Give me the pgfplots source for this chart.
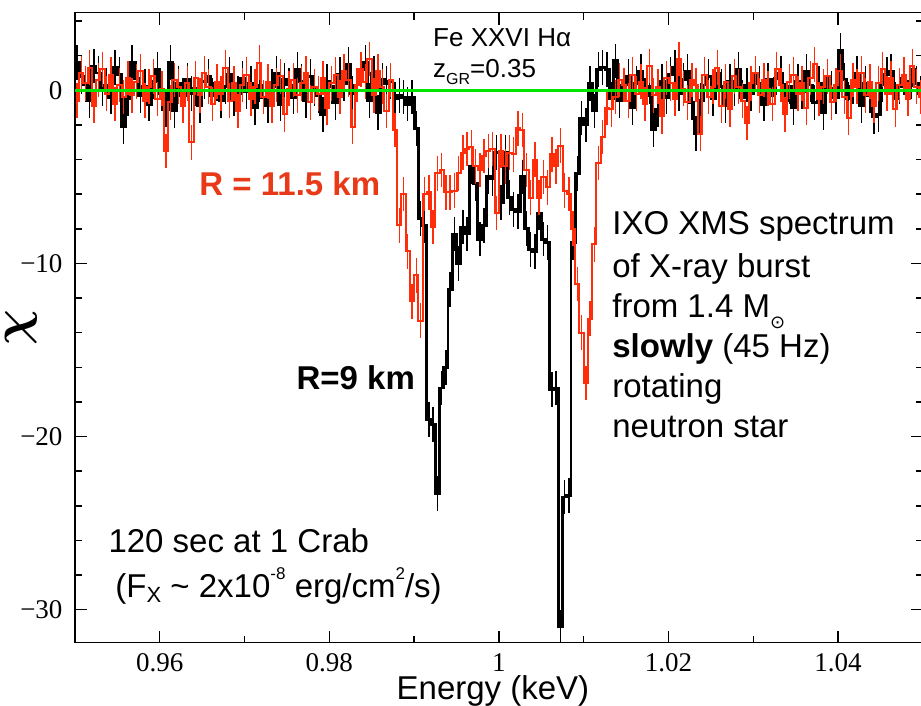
\documentclass[border=0pt]{standalone}
\usepackage{pgfplots}
\usepackage{pgfplotstable}
\pgfplotsset{compat=1.18}
\usepackage{bm}
\usepackage{fontspec}
\setmainfont{Liberation Sans}
\newfontfamily\serifnum{Liberation Serif}
\newfontfamily\symfont{DejaVu Sans}

\definecolor{spred}{RGB}{255,45,10}
\definecolor{lblred}{RGB}{232,58,24}
\definecolor{zerogreen}{RGB}{0,230,0}

% residual spectra: bin centre (keV), R=9 km, R=11.5 km
\pgfplotstableread{
E b r
0.95025 1.6 -0.6
0.95075 0.8 1.0
0.95125 0.3 0.4
0.95175 -0.6 1.3
0.95225 1.4 -0.9
0.95275 1.0 0.6
0.95325 0.1 1.2
0.95375 0.3 -0.2
0.95425 -0.4 0.9
0.95475 1.3 -0.8
0.95525 0.9 0.3
0.95575 -2.1 -0.4
0.95625 -0.5 0.7
0.95675 1.6 -0.3
0.95725 0.7 0.5
0.95775 -0.3 1.1
0.95825 0.2 -0.6
0.95875 -0.8 0.2
0.95925 0.5 0.8
0.95975 1.2 -0.5
0.96025 -0.2 0.1
0.96075 -1.1 -3.5
0.96125 1.6 -0.7
0.96175 -1.2 0.6
0.96225 0.4 0.2
0.96275 -0.3 -0.9
0.96325 0.6 0.4
0.96375 -0.2 -3.0
0.96425 0.1 0.7
0.96475 -0.9 -0.3
0.96525 0.5 1.0
0.96575 0.8 0.2
0.96625 -0.3 -0.8
0.96675 0.4 0.5
0.96725 -0.6 -0.2
0.96775 0.2 1.3
0.96825 0.9 -0.6
0.96875 -0.5 0.4
0.96925 -0.2 -1.2
0.96975 0.7 0.3
0.97025 -0.1 0.9
0.97075 0.4 -0.5
0.97125 -1.0 0.2
0.97175 0.3 1.6
0.97225 -0.4 -0.4
0.97275 -0.9 0.5
0.97325 0.2 -0.9
0.97375 1.0 0.3
0.97425 -0.8 0.8
0.97475 0.6 -1.4
0.97525 0.3 0.1
0.97575 -0.4 0.6
0.97625 1.2 -0.3
0.97675 0.5 0.4
0.97725 -0.6 1.0
0.97775 0.8 -0.7
0.97825 0.1 0.2
0.97875 -0.3 -0.2
0.97925 -1.4 0.7
0.97975 0.5 -1.0
0.98025 0.2 0.4
0.98075 -0.7 0.9
0.98125 0.9 -0.4
0.98175 0.4 1.1
0.98225 1.5 0.6
0.98275 -0.2 -2.1
0.98325 0.3 0.3
0.98375 1.2 1.2
0.98425 1.6 0.5
0.98475 -0.6 1.8
0.98525 1.0 -0.3
0.98575 -1.3 1.1
0.98625 0.6 0.2
0.98675 0.4 -1.2
0.98725 0.5 0.6
0.98775 -0.5 -2.3
0.98825 -0.3 -7.8
0.98875 -0.4 -6.0
0.98925 -0.8 -9.3
0.98975 -0.4 -12.2
0.99025 -2.2 -10.7
0.99075 -7.4 -13.3
0.99125 -7.8 -6.0
0.99175 -19.0 -5.9
0.99225 -19.3 -7.9
0.99275 -23.3 -4.8
0.99325 -17.2 -4.6
0.99375 -16.0 -5.9
0.99425 -11.5 -5.9
0.99475 -8.3 -5.8
0.99525 -10.0 -4.8
0.99575 -7.9 -3.6
0.99625 -8.3 -3.4
0.99675 -4.4 -3.3
0.99725 -5.4 -4.4
0.99775 -8.6 -4.6
0.99825 -7.8 -3.8
0.99875 -5.0 -3.5
0.99925 -5.1 -3.4
0.99975 -3.6 -7.1
1.00025 -6.5 -3.5
1.00075 -3.6 -4.4
1.00125 -6.2 -3.6
1.00175 -6.9 -3.7
1.00225 -7.0 -2.2
1.00275 -5.0 -2.3
1.00325 -8.0 -4.6
1.00375 -9.2 -6.2
1.00425 -9.3 -4.0
1.00475 -7.1 -6.2
1.00525 -8.6 -5.0
1.00575 -8.8 -5.6
1.00625 -17.3 -3.7
1.00675 -17.2 -4.4
1.00725 -31.0 -3.2
1.00775 -23.5 -5.8
1.00825 -23.4 -6.0
1.00875 -8.8 -8.0
1.00925 -4.8 -11.2
1.00975 -1.6 -14.0
1.01025 -2.0 -16.9
1.01075 0.4 -13.2
1.01125 -1.2 -8.9
1.01175 1.2 -4.2
1.01225 1.3 -2.7
1.01275 1.2 -1.0
1.01325 -0.5 -1.1
1.01375 1.7 -0.4
1.01425 -0.6 0.6
1.01475 0.3 0.3
1.01525 0.8 -0.6
1.01575 -1.0 0.9
1.01625 0.4 -0.2
1.01675 1.1 0.5
1.01725 -0.3 -0.8
1.01775 0.2 1.4
1.01825 -2.3 -0.3
1.01875 -1.1 0.2
1.01925 0.5 -1.5
1.01975 -0.4 0.7
1.02025 0.9 0.4
1.02075 1.3 -0.5
1.02125 -0.2 1.8
1.02175 0.6 0.1
1.02225 1.1 -0.7
1.02275 -0.7 0.6
1.02325 -2.5 0.3
1.02375 -0.6 -2.5
1.02425 0.3 0.9
1.02475 0.8 -0.4
1.02525 -0.5 0.2
1.02575 1.0 1.3
1.02625 0.2 -0.9
1.02675 -0.9 0.5
1.02725 0.5 -1.1
1.02775 0.1 0.8
1.02825 1.2 0.2
1.02875 -0.4 -0.6
1.02925 0.3 -1.9
1.02975 -0.2 0.4
1.03025 0.9 1.0
1.03075 0.4 -0.3
1.03125 -0.8 0.6
1.03175 0.6 0.1
1.03225 -0.3 -0.8
1.03275 0.7 1.2
1.03325 1.0 0.3
1.03375 -0.6 -1.4
1.03425 0.2 0.5
1.03475 -1.0 0.9
1.03525 0.5 -0.2
1.03575 -0.1 0.4
1.03625 1.1 -1.0
1.03675 0.3 0.7
1.03725 -0.7 1.5
1.03775 0.4 -0.5
1.03825 -1.3 0.2
1.03875 0.8 0.8
1.03925 0.1 -0.7
1.03975 -0.4 0.3
1.04025 2.3 1.1
1.04075 0.6 -0.4
1.04125 -0.5 -1.6
1.04175 0.2 0.6
1.04225 1.0 0.2
1.04275 -0.9 1.0
1.04325 0.4 -0.3
1.04375 -0.3 0.5
1.04425 -1.5 -0.9
1.04475 -1.4 0.4
1.04525 0.3 1.2
1.04575 0.9 -0.2
1.04625 1.1 0.7
1.04675 -0.5 -1.1
1.04725 0.2 0.3
1.04775 0.7 0.9
1.04825 -0.4 -0.5
1.04875 1.2 1.4
1.04925 0.4 0.2
1.04975 -0.2 -0.4
}\spec

\begin{document}
\begin{tikzpicture}
\useasboundingbox (-37.45pt,-31.5pt) rectangle (423.05pt,321.35pt);
\begin{axis}[
  at={(0,0)}, anchor=south west,
  scale only axis, width=424pt, height=315pt,
  xmin=0.95, xmax=1.05, ymin=-31.91, ymax=4.48,
  xtick={0.96,0.98,1,1.02,1.04},
  xticklabels={0.96,0.98,1,1.02,1.04},
  minor xtick={0.97,0.99,1.01,1.03},
  ytick={-30,-20,-10,0},
  yticklabels={−30,−20,−10,0},
  minor ytick={-28,-26,-24,-22,-18,-16,-14,-12,-8,-6,-4,-2,2,4},
  tick align=inside,
  xtick pos=both, ytick pos=both,
  major tick length=6pt, minor tick length=3.5pt,
  axis line style={line width=0.75pt},
  every tick/.style={black, line width=0.75pt},
  xticklabel style={font=\serifnum\fontsize{13.5}{13.5}\selectfont, anchor=base, yshift=-14.5pt},
  yticklabel style={font=\serifnum\fontsize{13.5}{13.5}\selectfont, anchor=east, inner sep=0pt, xshift=-6pt},
  xlabel={Energy (keV)},
  xlabel style={at={(axis description cs:0.493,0)}, anchor=base, yshift=-28.5pt,
    font=\fontsize{16.5}{16.5}\selectfont},
  ylabel={$\bm{\chi}$},
  ylabel style={at={(axis description cs:-0.0635,0.5)}, anchor=center, inner sep=0pt,
    font=\fontsize{28}{28}\selectfont},
  clip=true,
]
\addplot[black, line width=1.4pt, const plot mark mid,
  error bars/.cd, y dir=both, y fixed=1, error mark=none,
  error bar style={line width=0.7pt, black}]
  table[x=E, y=b] {\spec};
\addplot[spred, line width=1pt, const plot mark mid,
  error bars/.cd, y dir=both, y fixed=1, error mark=none,
  error bar style={line width=0.7pt, spred}]
  table[x=E, y=r] {\spec};
\addplot[zerogreen, line width=1.5pt] coordinates {(0.95,0) (1.05,0)};

\node[anchor=base west, inner sep=0pt, font=\fontsize{13}{13}\selectfont]
  at (axis cs:0.99221,2.50) {Fe XXVI Hα};
\node[anchor=base west, inner sep=0pt, font=\fontsize{13}{13}\selectfont]
  at (axis cs:0.99221,0.71) {z\raisebox{-3.5pt}{\fontsize{8}{8}\selectfont GR}=0.35};
\node[anchor=base west, inner sep=0pt, text=lblred, font=\bfseries\fontsize{16.5}{16.5}\selectfont]
  at (axis cs:0.96464,-6.06) {R = 11.5 km};
\node[anchor=base west, inner sep=0pt, font=\bfseries\fontsize{16.5}{16.5}\selectfont]
  at (axis cs:0.97610,-17.30) {R=9 km};
\begin{scope}[every node/.style={anchor=base west, inner sep=0pt, font=\fontsize{16.5}{16.5}\selectfont}]
\node at (axis cs:1.01333,-8.355) {IXO XMS spectrum};
\node at (axis cs:1.01333,-10.837) {of X-ray burst};
\node at (axis cs:1.01333,-13.147) {from 1.4 M\raisebox{-5.4pt}{\symfont\fontsize{9}{9}\selectfont ⊙}};
\node at (axis cs:1.01333,-15.456) {\textbf{slowly} (45 Hz)};
\node at (axis cs:1.01333,-17.766) {rotating};
\node at (axis cs:1.01333,-20.075) {neutron star};
\node at (axis cs:0.95392,-26.71) {120 sec at 1 Crab};
\node at (axis cs:0.95474,-29.31) {(F\raisebox{-2.5pt}{\fontsize{11}{11}\selectfont X} \textasciitilde{} 2x10\raisebox{9pt}{\fontsize{8.5}{8.5}\selectfont -8} erg/cm\raisebox{9pt}{\fontsize{8.5}{8.5}\selectfont 2}/s)};
\end{scope}
\end{axis}
\end{tikzpicture}
\end{document}
